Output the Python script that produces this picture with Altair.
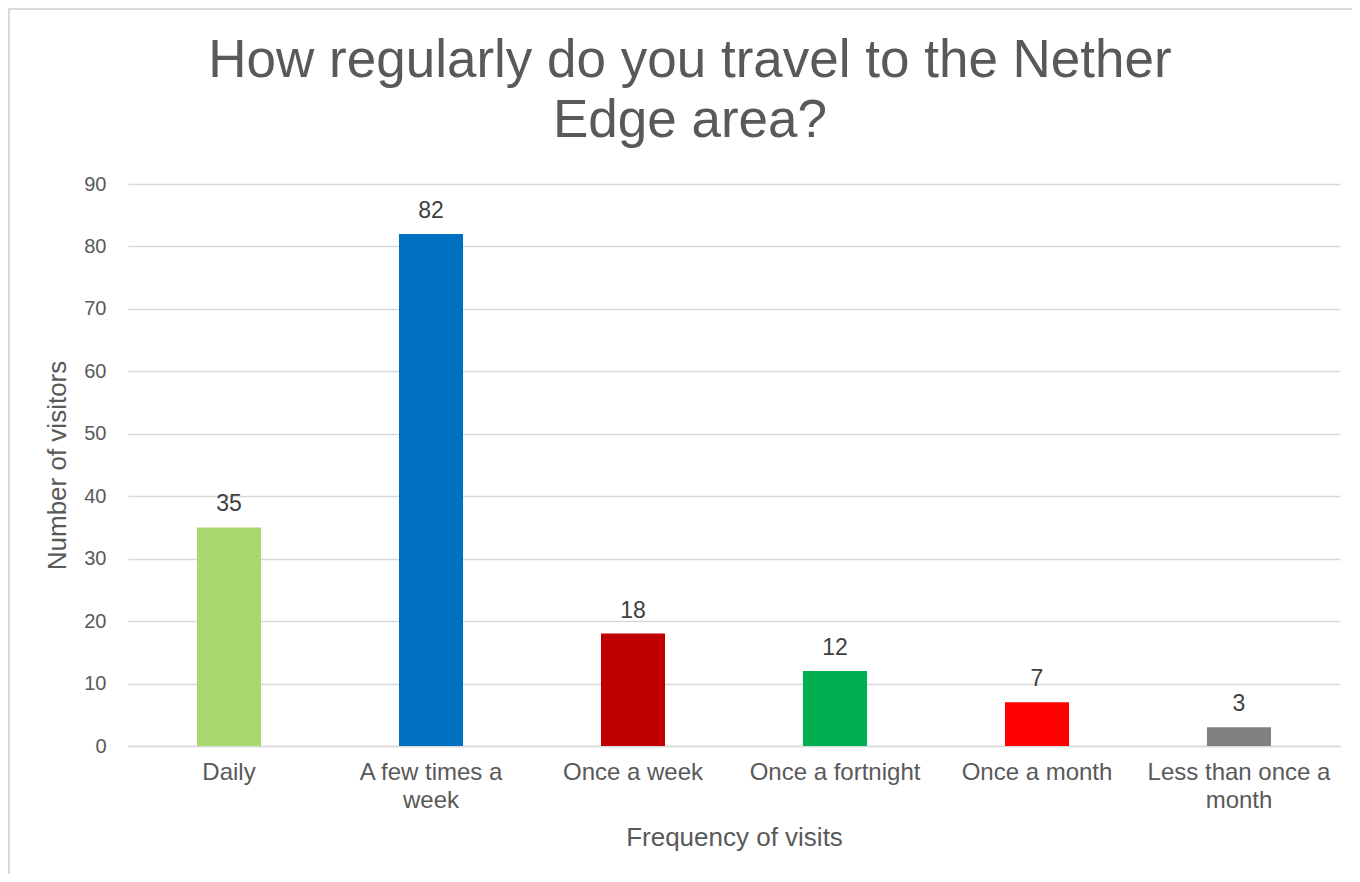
import altair as alt
import pandas as pd

categories = ["Daily", "A few times a week", "Once a week", "Once a fortnight", "Once a month", "Less than once a month"]
visitors = [35, 82, 18, 12, 7, 3]
colors = ["#A9D86E", "#0070C0", "#C00000", "#00B050", "#FF0000", "#808080"]
wrapped = {
    "A few times a week": ["A few times a", "week"],
    "Less than once a month": ["Less than once a", "month"],
}

df = pd.DataFrame({"cat": categories, "n": visitors})

label_expr = " : ".join(
    [f"datum.value == '{k}' ? {v!r}" for k, v in wrapped.items()] + ["datum.value"]
)

FONT = "Liberation Sans"
GREY = "#595959"

x = alt.X(
    "cat:N",
    sort=categories,
    scale=alt.Scale(paddingInner=0.683, paddingOuter=0.3415),
    axis=alt.Axis(
        title="Frequency of visits",
        labelAngle=0,
        labelExpr=label_expr,
        labelFont=FONT,
        labelFontSize=24,
        labelColor=GREY,
        labelPadding=14,
        labelLineHeight=28,
        labelLimit=400,
        labelOverlap=False,
        ticks=False,
        tickSize=0,
        domainColor="#D9D9D9",
        domainWidth=1.5,
        titleFont=FONT,
        titleFontSize=26,
        titleFontWeight="normal",
        titleColor=GREY,
        titlePadding=12,
    ),
)
y = alt.Y(
    "n:Q",
    scale=alt.Scale(domain=[0, 90]),
    axis=alt.Axis(
        title="Number of visitors",
        values=list(range(0, 91, 10)),
        labelFont=FONT,
        labelFontSize=20,
        labelColor=GREY,
        labelPadding=22,
        ticks=False,
        tickSize=0,
        domain=False,
        gridColor="#D9D9D9",
        gridWidth=1.5,
        titleFont=FONT,
        titleFontSize=26,
        titleFontWeight="normal",
        titleColor=GREY,
        titlePadding=13,
    ),
)

bars = alt.Chart(df).mark_bar().encode(
    x=x,
    y=y,
    color=alt.Color("cat:N", scale=alt.Scale(domain=categories, range=colors), legend=None),
)

texts = alt.Chart(df).mark_text(
    baseline="alphabetic", dy=-16, font=FONT, fontSize=23, color="#404040"
).encode(
    x=alt.X("cat:N", sort=categories),
    y="n:Q",
    text="n:Q",
)

frame = alt.Chart(alt.Data(values=[{}])).mark_rect(
    fill=None, stroke="#D9D9D9", strokeWidth=2
).encode(
    x=alt.value(-119), x2=alt.value(1300), y=alt.value(-175), y2=alt.value(900)
)

chart = alt.layer(frame, bars, texts).properties(
    width=1212,
    height=562,
    autosize=alt.AutoSizeParams(type="none"),
    padding={"left": 120, "top": 176, "right": 12, "bottom": 128},
    title=alt.TitleParams(
        text=["How regularly do you travel to the Nether", "Edge area?"],
        font=FONT,
        fontSize=53,
        fontWeight="normal",
        color=GREY,
        lineHeight=60,
        anchor="middle",
        frame="group",
        dx=-44,
        offset=-140,
    ),
).configure_view(stroke=None)

chart.save("out.html", embed_options={"renderer": "svg", "actions": False})
